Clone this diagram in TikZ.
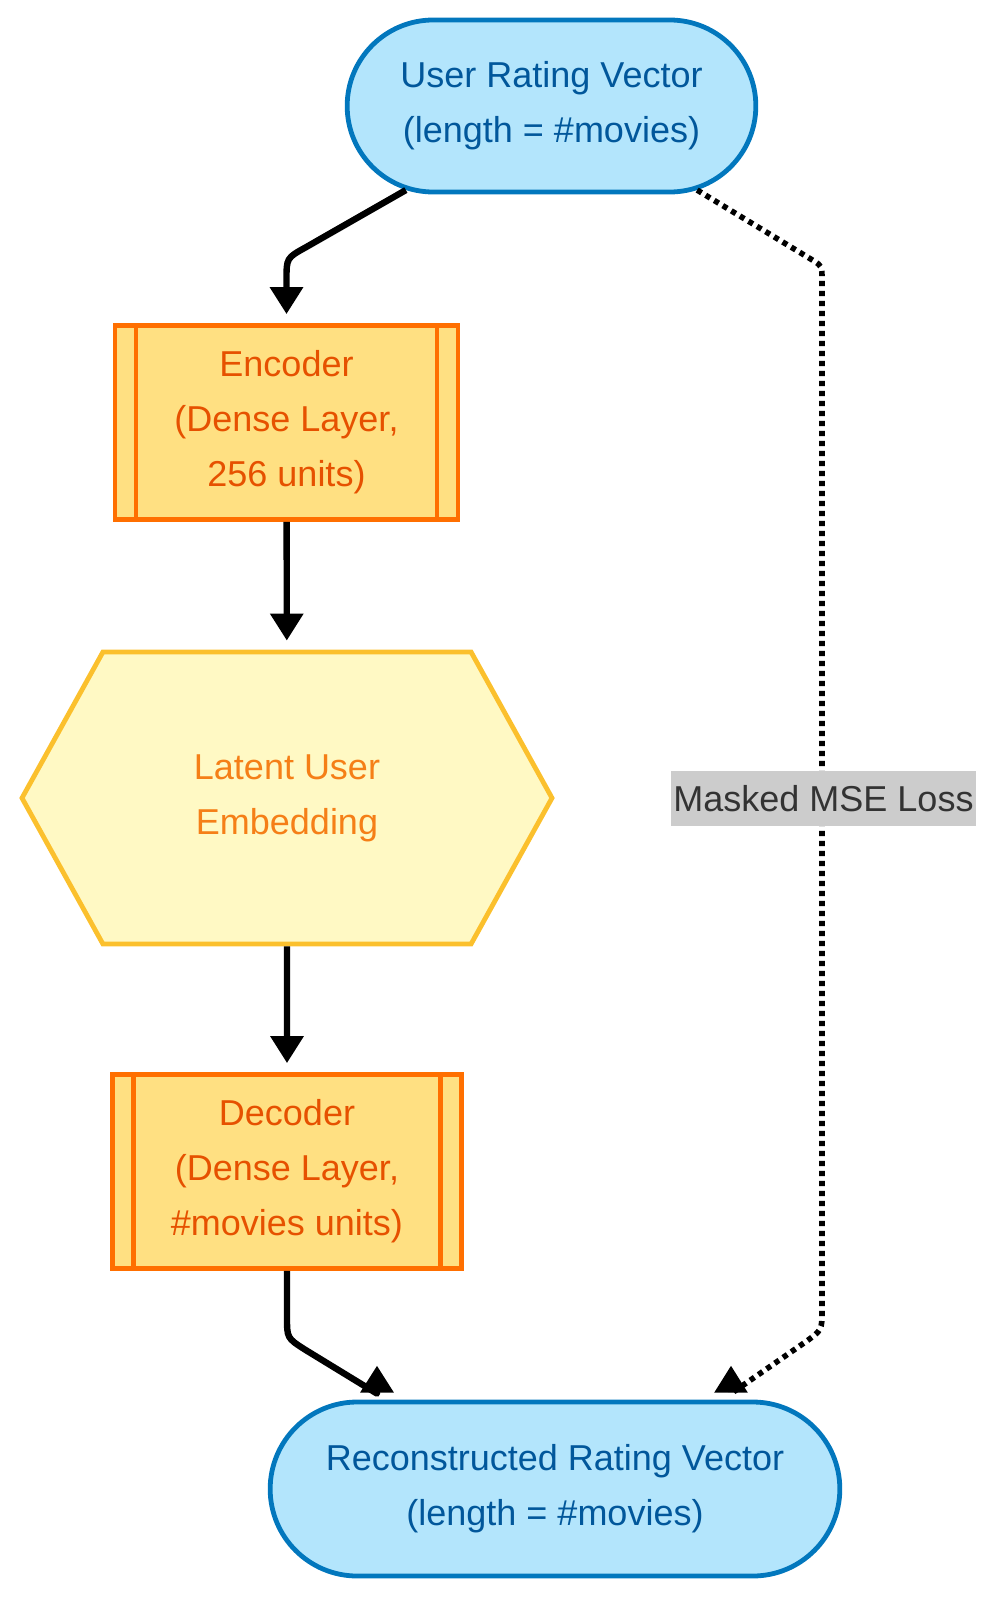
\documentclass[tikz,border=0pt]{standalone}
\usepackage{fontspec}
\setmainfont{Liberation Sans}
\usepackage{xcolor}
\usetikzlibrary{positioning}
\usetikzlibrary{arrows.meta}
\usetikzlibrary{shapes.misc}
\usetikzlibrary{shapes.symbols}
\definecolor{vecfill}{HTML}{B3E5FC}
\definecolor{vecline}{HTML}{0277BD}
\definecolor{vectext}{HTML}{01579B}
\definecolor{densefill}{HTML}{FFE082}
\definecolor{denseline}{HTML}{FF6F00}
\definecolor{densetext}{HTML}{E65100}
\definecolor{latfill}{HTML}{FFF9C4}
\definecolor{latline}{HTML}{FBC02D}
\definecolor{lattext}{HTML}{F57F17}
\definecolor{lossfill}{HTML}{CCCCCC}
\definecolor{losstext}{HTML}{333333}
\tikzset{
vector node/.style={rounded rectangle, draw=vecline, fill=vecfill, line width=2.4pt,
                    text=vectext, align=center, font=\fontsize{18}{27.5}\selectfont},
dense layer/.style={rectangle, draw=denseline, fill=densefill, line width=2.4pt,
                    text=densetext, align=center, font=\fontsize{18}{27.5}\selectfont,
                    minimum height=97pt, path picture={
\draw[denseline, line width=2.4pt] ([xshift=10.5pt]path picture bounding box.north west) --
                                   ([xshift=10.5pt]path picture bounding box.south west);
\draw[denseline, line width=2.4pt] ([xshift=-10.5pt]path picture bounding box.north east) --
                                   ([xshift=-10.5pt]path picture bounding box.south east);}},
latent node/.style={signal, signal to=west and east, signal pointer angle=122,
                    draw=latline, fill=latfill, line width=2.4pt, text=lattext, align=center,
                    font=\fontsize{18}{27.5}\selectfont, minimum width=265pt, minimum height=146pt},
loss label/.style={fill=lossfill, text=losstext, inner xsep=1pt, inner ysep=0pt,
                   minimum height=27.5pt, font=\fontsize{18}{27.5}\selectfont},
flow/.style={line width=3.2pt, -{Triangle[length=13.5pt,width=16pt]}, shorten >=4.5pt},
flow up/.style={flow, shorten >=0pt, line join=round},
loss line/.style={line width=2.8pt, dash pattern=on 2.6pt off 2.4pt, line join=round,
                  -{Triangle[length=13.5pt,width=16pt]}}
}
\begin{document}
\begin{tikzpicture}[x=0.5pt,y=-0.5pt]
\useasboundingbox (0,0) rectangle (998,1600);

% Nodes
\node[vector node, minimum width=211pt, minimum height=86pt] (usr) at (551.5,106)
  {User Rating Vector\\(length = \#movies)};
\node[dense layer, minimum width=171.5pt] (enc) at (286.5,422.5)
  {Encoder\\(Dense Layer,\\256 units)};
\node[latent node] (lat) at (287,798) {Latent User\\Embedding};
\node[dense layer, minimum width=174.5pt] (dec) at (287,1171.5)
  {Decoder\\(Dense Layer,\\\#movies units)};
\node[vector node, minimum width=291.5pt, minimum height=87pt] (rec) at (555,1489)
  {Reconstructed Rating Vector\\(length = \#movies)};

% Bends
\coordinate (usr_bend) at (286.5,258);
\coordinate (dec_bend) at (287,1338);
\coordinate (loss_top) at (822,266);
\coordinate (loss_bottom) at (822,1330);
\coordinate (rec_left) at ([xshift=-89pt,yshift=3pt]rec.north);
\coordinate (rec_right) at ([xshift=88pt,yshift=3pt]rec.north);

% Arrows
\draw[flow] (usr.210) -- (305.8,247.3) .. controls (usr_bend) .. (286.5,280) -- (enc.north);
\draw[flow] (enc) -- (lat);
\draw[flow] (lat) -- (dec);
\draw[flow up] (dec.south) -- (287,1317) .. controls (dec_bend) .. (304.7,1349.4)
  -- (rec_left) -- ++(0,-28);
\draw[loss line] (usr.330) -- (813,260.4) .. controls (loss_top) .. (822,280) -- (822,1310)
  .. controls (loss_bottom) .. (805.8,1341.7) -- (rec_right) -- ++(0,-28);

% Label
\node[loss label] (loss) at (823.5,798.5) {Masked MSE Loss};

\end{tikzpicture}
\end{document}
